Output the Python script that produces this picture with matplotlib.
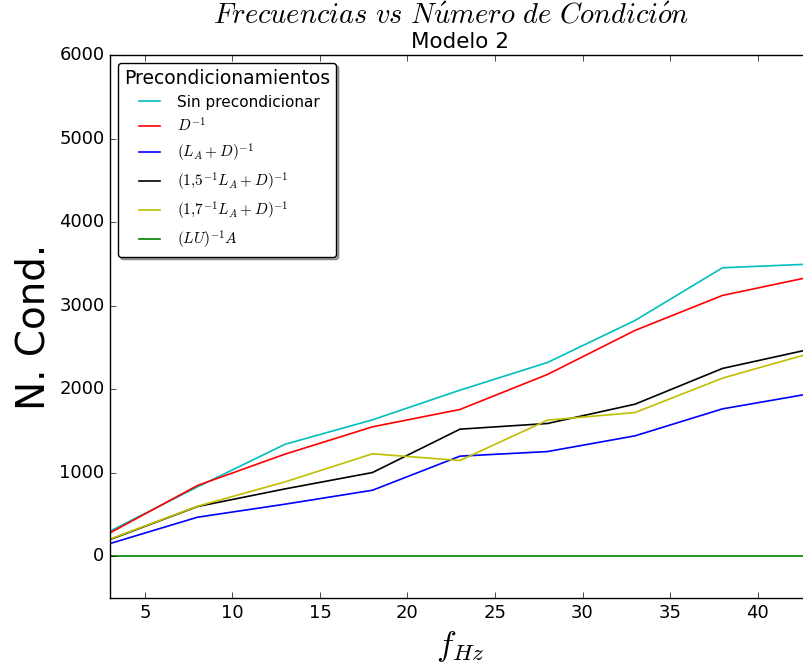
import matplotlib
matplotlib.use("Agg")
import matplotlib.pyplot as plt

plt.style.use('classic')
plt.rcParams['mathtext.fontset'] = 'cm'

freqs = [3, 8, 13, 18, 23, 28, 33, 38, 43]
sin_prec = [300, 830, 1340, 1633, 1988, 2319, 2822, 3453, 3497]
d_inv = [280, 847, 1222, 1549, 1757, 2176, 2703, 3122, 3343]
la_d = [152, 467, 623, 790, 1198, 1253, 1441, 1764, 1946]
la15_d = [200, 595, 806, 1002, 1521, 1589, 1820, 2248, 2478]
la17_d = [205, 598, 890, 1226, 1146, 1629, 1720, 2132, 2428]
lu_a = [1, 1, 1, 1, 1, 1, 1, 1, 1]

labels = ['Sin precondicionar', r'$D^{-1}$', r'$(L_A+D)^{-1}$',
          r'$(1{,}5^{-1}L_A+D)^{-1}$', r'$(1{,}7^{-1}L_A+D)^{-1}$',
          r'$(LU)^{-1}A$']
series = [sin_prec, d_inv, la_d, la15_d, la17_d, lu_a]
colors = ['c', 'r', 'b', 'k', 'y', 'g']

fig = plt.figure(figsize=(8.04, 6.71), dpi=100)
fig.patch.set_facecolor('white')
ax = fig.add_axes([110/804, 1-598/671, 700/804, 543/671])

for s, lab, c in zip(series, labels, colors):
    ax.plot(freqs, s, color=c, lw=1.2, label=lab)

ax.set_xlim(3, 43)
ax.set_ylim(-500, 6000)
ax.set_xticks([5, 10, 15, 20, 25, 30, 35, 40])
ax.set_yticks([0, 1000, 2000, 3000, 4000, 5000, 6000])
ax.tick_params(labelsize=13)

ax.set_ylabel('N. Cond.', fontsize=28)
ax.set_xlabel(r'$f_{Hz}$', fontsize=24)
ax.set_title('Modelo 2', fontsize=15.5)
fig.suptitle(r'$Frecuencias\ vs\ N\acute{u}mero\ de\ Condici\acute{o}n$',
             fontsize=20.5, x=451/804, y=0.998)

leg = ax.legend(loc='upper left', title='Precondicionamientos', fontsize=11,
                shadow=True, fancybox=True, labelspacing=0.45)
leg.get_title().set_fontsize(13.5)

fig.savefig('out.png', dpi=100, facecolor='white')
